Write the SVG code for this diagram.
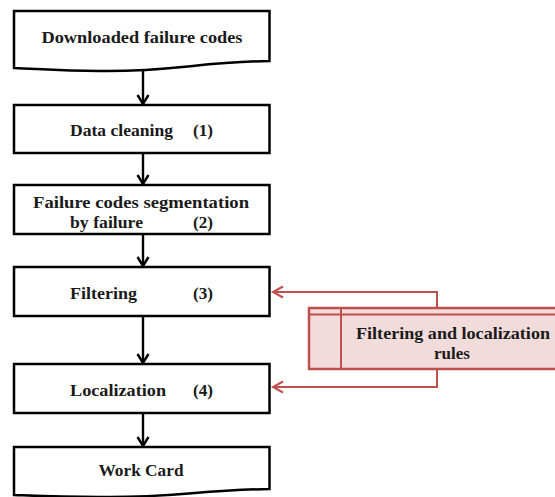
<svg xmlns="http://www.w3.org/2000/svg" width="555" height="497" viewBox="0 0 555 497">
<defs>
<marker id="ab" markerWidth="14" markerHeight="14" refX="10" refY="7" orient="auto" markerUnits="userSpaceOnUse">
<path d="M1,1.5 L10,7 L1,12.5" fill="none" stroke="#000" stroke-width="2.4"/>
</marker>
<marker id="ar" markerWidth="14" markerHeight="14" refX="11" refY="7" orient="auto" markerUnits="userSpaceOnUse">
<path d="M1,1.5 L11,7 L1,12.5" fill="none" stroke="#c0504d" stroke-width="2"/>
</marker>
<style>
.n{fill:#fff;stroke:#000;stroke-width:2.5}
.t{font-family:"Liberation Serif",serif;font-weight:bold;font-size:17px;fill:#1a1a1a}
.c{stroke:#000;stroke-width:2.4;fill:none}
.r{stroke:#c0504d;stroke-width:2;fill:none}
</style>
</defs>
<g id="connectors">
<line class="c" x1="143" y1="70" x2="143" y2="104" marker-end="url(#ab)"/>
<line class="c" x1="143" y1="153" x2="143" y2="184" marker-end="url(#ab)"/>
<line class="c" x1="143" y1="234" x2="143" y2="266" marker-end="url(#ab)"/>
<line class="c" x1="143" y1="316" x2="143" y2="363" marker-end="url(#ab)"/>
<line class="c" x1="143" y1="413" x2="143" y2="446" marker-end="url(#ab)"/>
<polyline class="r" points="437,308 437,292 273,292" marker-end="url(#ar)"/>
<polyline class="r" points="437,369 437,387 273,387" marker-end="url(#ar)"/>
</g>
<g id="n0">
<path class="n" d="M14,11 H269.5 V61 C200,62 170,72 100,71 C60,71 40,69 14,68 Z"/>
<text class="t" x="142" y="43" text-anchor="middle" textLength="201" lengthAdjust="spacingAndGlyphs">Downloaded failure codes</text>
</g>
<g id="n1">
<rect class="n" x="14" y="105" width="255.5" height="48"/>
<text class="t" x="70" y="136" textLength="103" lengthAdjust="spacingAndGlyphs">Data cleaning</text>
<text class="t" x="193" y="136" textLength="20" lengthAdjust="spacingAndGlyphs">(1)</text>
</g>
<g id="n2">
<rect class="n" x="14" y="185" width="255.5" height="49"/>
<text class="t" x="141" y="208" text-anchor="middle" textLength="216" lengthAdjust="spacingAndGlyphs">Failure codes segmentation</text>
<text class="t" x="70" y="228" textLength="73" lengthAdjust="spacingAndGlyphs">by failure</text>
<text class="t" x="193" y="228" textLength="20" lengthAdjust="spacingAndGlyphs">(2)</text>
</g>
<g id="n3">
<rect class="n" x="14" y="267" width="255.5" height="49"/>
<text class="t" x="70" y="299" textLength="67" lengthAdjust="spacingAndGlyphs">Filtering</text>
<text class="t" x="193" y="299" textLength="20" lengthAdjust="spacingAndGlyphs">(3)</text>
</g>
<g id="n4">
<rect class="n" x="14" y="364" width="255.5" height="49"/>
<text class="t" x="70" y="396" textLength="96" lengthAdjust="spacingAndGlyphs">Localization</text>
<text class="t" x="193" y="396" textLength="20" lengthAdjust="spacingAndGlyphs">(4)</text>
</g>
<g id="n5">
<path class="n" d="M14,447 H269.5 V489 C200,490 170,498 100,497 C60,497 40,496 14,495 Z"/>
<text class="t" x="141" y="476" text-anchor="middle" textLength="85" lengthAdjust="spacingAndGlyphs">Work Card</text>
</g>
<g id="rules">
<rect x="309" y="308" width="260" height="61" fill="#f2dcdb" stroke="#c0504d" stroke-width="2.5"/>
<line x1="309" y1="314.5" x2="555" y2="314.5" stroke="#c0504d" stroke-width="2"/>
<line x1="341" y1="308" x2="341" y2="369" stroke="#c0504d" stroke-width="2"/>
<text class="t" x="453" y="339" text-anchor="middle" textLength="194" lengthAdjust="spacingAndGlyphs">Filtering and localization</text>
<text class="t" x="452" y="359" text-anchor="middle">rules</text>
</g>
</svg>
